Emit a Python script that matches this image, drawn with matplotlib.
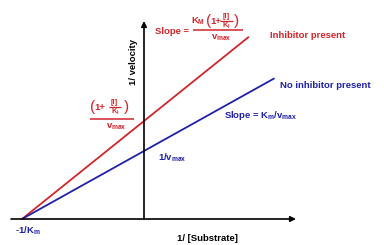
import matplotlib
matplotlib.use("Agg")
import matplotlib.pyplot as plt

plt.rcParams['font.family'] = ['Liberation Sans', 'DejaVu Sans']
plt.rcParams['font.weight'] = 'bold'
plt.rcParams['mathtext.fontset'] = 'custom'
plt.rcParams['mathtext.rm'] = 'Liberation Sans:bold'
plt.rcParams['mathtext.it'] = 'Liberation Sans:bold'
plt.rcParams['mathtext.bf'] = 'Liberation Sans:bold'

# Lineweaver-Burk data (1/[S], 1/v)
inhib_x = [-1.0, 0.86]
inhib_y = [0.0, 2.68]
noinhib_x = [-1.0, 1.07]
noinhib_y = [0.0, 2.07]

RED = '#d0262b'
BLUE = '#2020a8'

W, H = 384, 245
fig = plt.figure(figsize=(W / 100, H / 100), dpi=100)
ax = fig.add_axes([0, 0, 1, 1])
ax.set_xlim(-144 / 122, 240 / 122)
ax.set_ylim((219 - 245) / 68, 219 / 68)
ax.axis('off')


def P(px, py):
    return ((px - 144) / 122, (219 - py) / 68)


def hline(x0, x1, py, color, lw=1.0):
    a, b = P(x0, py), P(x1, py)
    ax.plot([a[0], b[0]], [a[1], b[1]], color=color, lw=lw, solid_capstyle='butt')


def T(px, py, s, size, color, ha='center', **kw):
    ax.text(*P(px, py), s, ha=ha, va='center', fontsize=size, color=color, **kw)


# axes with arrows
ax.annotate('', xy=P(296, 219), xytext=P(11, 219),
            arrowprops=dict(arrowstyle='-|>', color='black', lw=1.2,
                            mutation_scale=8, shrinkA=0, shrinkB=0))
ax.annotate('', xy=P(144, 21), xytext=P(144, 219),
            arrowprops=dict(arrowstyle='-|>', color='black', lw=1.2,
                            mutation_scale=8, shrinkA=0, shrinkB=0))

ax.plot(inhib_x, inhib_y, color=RED, lw=1.3, solid_capstyle='butt')
ax.plot(noinhib_x, noinhib_y, color=BLUE, lw=1.3, solid_capstyle='butt')

fs = 6.8
sm = 5.4
T(134, 62, '1/ velocity', fs, 'black', rotation=90)
T(207, 238, '1/ [Substrate]', fs, 'black')
T(270, 36, 'Inhibitor present', fs, RED, ha='left')
T(280, 86, 'No inhibitor present', fs, BLUE, ha='left')
T(224, 115, r'Slope = K$_\mathregular{m}$/v$_\mathregular{max}$', fs, BLUE, ha='left')
T(158, 158, r'1/v$_\mathregular{max}$', fs, BLUE, ha='left')
T(15, 231, r'-1/K$_\mathregular{m}$', fs, BLUE, ha='left')

# Right fraction: Slope = K_M(1+[I]/K_I)/v_max
T(155, 31, 'Slope =', fs, RED, ha='left')
T(205, 21, r'K$_\mathregular{M}$', fs, RED, ha='right')
T(209, 21, '(', 11, RED, fontweight='normal')
T(215.5, 21, '1+', fs, RED)
T(226.5, 16.5, '[I]', sm, RED)
hline(220.5, 233, 21, RED, 0.9)
T(226.5, 25.5, r'K$_\mathregular{I}$', sm, RED)
T(237, 21, ')', 11, RED, fontweight='normal')
hline(193, 243, 30, RED, 1.1)
T(221, 38, r'v$_\mathregular{max}$', fs, RED)

# Left fraction: (1+[I]/K_I)/v_max
T(92.5, 107, '(', 11, RED, fontweight='normal')
T(99.5, 107, '1+', fs, RED)
T(114.5, 102.5, '[I]', sm, RED)
hline(109, 121, 107, RED, 0.9)
T(115, 111.5, r'K$_\mathregular{I}$', sm, RED)
T(127, 107, ')', 11, RED, fontweight='normal')
hline(90, 134, 119, RED, 1.1)
T(116, 127, r'v$_\mathregular{max}$', fs, RED)

fig.savefig('out.png', dpi=100)
